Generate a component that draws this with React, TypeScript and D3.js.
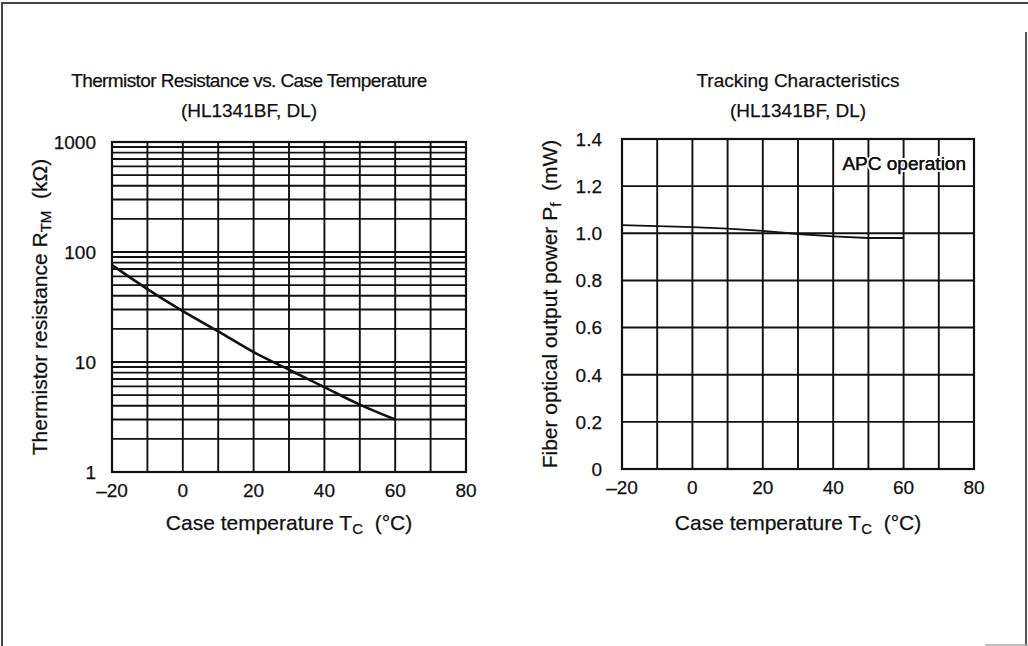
import { scaleLinear, scaleLog, line as d3_line, curveMonotoneX, curveLinear } from "d3";

// Thermistor resistance (kΩ) vs case temperature (°C)
const thermTemps = [-20, -10, 0, 10, 20, 30, 40, 50, 60];
const thermValues = [76, 46, 29, 19, 12.3, 8.5, 5.9, 4.1, 3.0];
const thermYLabels = [1, 10, 100, 1000];

// Tracking characteristics, fiber output power (mW)
const trackTemps = [-20, -10, 0, 10, 20, 30, 40, 50, 60];
const trackValues = [1.035, 1.03, 1.026, 1.02, 1.01, 0.997, 0.987, 0.98, 0.98];
const trackYLabels = [0, 0.2, 0.4, 0.6, 0.8, 1.0, 1.2, 1.4];

const tempLabels = [-20, 0, 20, 40, 60, 80];

const FONT = "'Liberation Sans', Arial, Helvetica, sans-serif";
const FS = 19;
const FS_AXIS = 21;

const fmtTemp = (t: number) => (t < 0 ? `–${Math.abs(t)}` : `${t}`);

export default function App() {
  // left chart scales
  const xL = scaleLinear().domain([-20, 80]).range([112, 466]);
  const yL = scaleLog().domain([1, 1000]).range([472, 142]);
  // right chart scales
  const xR = scaleLinear().domain([-20, 80]).range([622, 974]);
  const yR = scaleLinear().domain([0, 1.4]).range([469, 139]);

  const thermPts = thermTemps.map((t, i) => ({ t, v: thermValues[i] }));
  const trackPts = trackTemps.map((t, i) => ({ t, v: trackValues[i] }));

  const thermPath = d3_line<{ t: number; v: number }>()
    .x((d) => xL(d.t))
    .y((d) => yL(d.v))
    .curve(curveMonotoneX)(thermPts);

  const trackPath = d3_line<{ t: number; v: number }>()
    .x((d) => xR(d.t))
    .y((d) => yR(d.v))
    .curve(curveLinear)(trackPts);

  const [l0, l1] = xL.range();
  const [lb, lt] = yL.range();
  const [r0, r1] = xR.range();
  const [rb, rt] = yR.range();

  return (
    <svg
      width={1028}
      height={646}
      style={{ position: "absolute", left: 0, top: 0, background: "#fff" }}
      fontFamily={FONT}
      fontSize={FS}
    >
      {/* page frame */}
      <path d="M2,646 V3 H1028" fill="none" stroke="#444" strokeWidth={2} />
      <line x1={1026} x2={1026} y1={32} y2={646} stroke="#555" strokeWidth={2} />
      <line x1={985} x2={1028} y1={645} y2={645} stroke="#aaa" strokeWidth={1.5} />

      {/* ---------- left chart ---------- */}
      <g stroke="#111" strokeWidth={1.9}>
        {yL.ticks().map((v, i) => (
          <line key={`lh${i}`} x1={l0} x2={l1} y1={yL(v)} y2={yL(v)} />
        ))}
        {xL.ticks(10).map((t, i) => (
          <line key={`lv${i}`} x1={xL(t)} x2={xL(t)} y1={lt} y2={lb} />
        ))}
        <rect x={l0} y={lt} width={l1 - l0} height={lb - lt} fill="none" strokeWidth={2.2} />
      </g>
      {thermPath && <path d={thermPath} fill="none" stroke="#111" strokeWidth={2.6} />}

      {/* ---------- right chart ---------- */}
      <g stroke="#111" strokeWidth={1.9}>
        {yR.ticks(7).map((v, i) => (
          <line key={`rh${i}`} x1={r0} x2={r1} y1={yR(v)} y2={yR(v)} />
        ))}
        {xR.ticks(10).map((t, i) => (
          <line key={`rv${i}`} x1={xR(t)} x2={xR(t)} y1={rt} y2={rb} />
        ))}
        <rect x={r0} y={rt} width={r1 - r0} height={rb - rt} fill="none" strokeWidth={2.2} />
      </g>
      {trackPath && <path d={trackPath} fill="none" stroke="#111" strokeWidth={1.8} />}

      {/* text */}
      <g fill="#111" stroke="#111" strokeWidth={0.25}>
        <text x={249} y={87} textAnchor="middle" letterSpacing={-0.6}>Thermistor Resistance vs. Case Temperature</text>
        <text x={249} y={117} textAnchor="middle">(HL1341BF, DL)</text>

        {thermYLabels.map((v) => (
          <text key={`ly${v}`} x={96} y={yL(v)} dy="0.36em" textAnchor="end">{v}</text>
        ))}
        {tempLabels.map((t) => (
          <text key={`lx${t}`} x={xL(t)} y={lb + 25} textAnchor="middle">{fmtTemp(t)}</text>
        ))}
        <text x={xL(30)} y={530} textAnchor="middle" fontSize={FS_AXIS} style={{ whiteSpace: "pre" }}>
          Case temperature T<tspan fontSize={15} dy={4}>C</tspan><tspan dy={-4}>  (°C)</tspan>
        </text>
        <text transform={`translate(47,${(lt + lb) / 2}) rotate(-90)`} textAnchor="middle" fontSize={FS_AXIS} style={{ whiteSpace: "pre" }}>
          Thermistor resistance R<tspan fontSize={15} dy={4}>TM</tspan><tspan dy={-4}>  (kΩ)</tspan>
        </text>

        <text x={xR(30)} y={87} textAnchor="middle">Tracking Characteristics</text>
        <text x={xR(30)} y={117} textAnchor="middle">(HL1341BF, DL)</text>

        <text x={966} y={170} textAnchor="end" paintOrder="stroke" stroke="#fff" strokeWidth={4}>APC operation</text>
        <text x={966} y={170} textAnchor="end">APC operation</text>

        {trackYLabels.map((v) => (
          <text key={`ry${v}`} x={602} y={yR(v)} dy="0.36em" textAnchor="end">{v === 0 ? "0" : v.toFixed(1)}</text>
        ))}
        {tempLabels.map((t) => (
          <text key={`rx${t}`} x={xR(t)} y={rb + 25} textAnchor="middle">{fmtTemp(t)}</text>
        ))}
        <text x={xR(30)} y={530} textAnchor="middle" fontSize={FS_AXIS} style={{ whiteSpace: "pre" }}>
          Case temperature T<tspan fontSize={15} dy={4}>C</tspan><tspan dy={-4}>  (°C)</tspan>
        </text>
        <text transform={`translate(557,${(rt + rb) / 2}) rotate(-90)`} textAnchor="middle" fontSize={FS_AXIS} style={{ whiteSpace: "pre" }}>
          Fiber optical output power P<tspan fontSize={15} dy={4}>f</tspan><tspan dy={-4}>  (mW)</tspan>
        </text>
      </g>
    </svg>
  );
}
